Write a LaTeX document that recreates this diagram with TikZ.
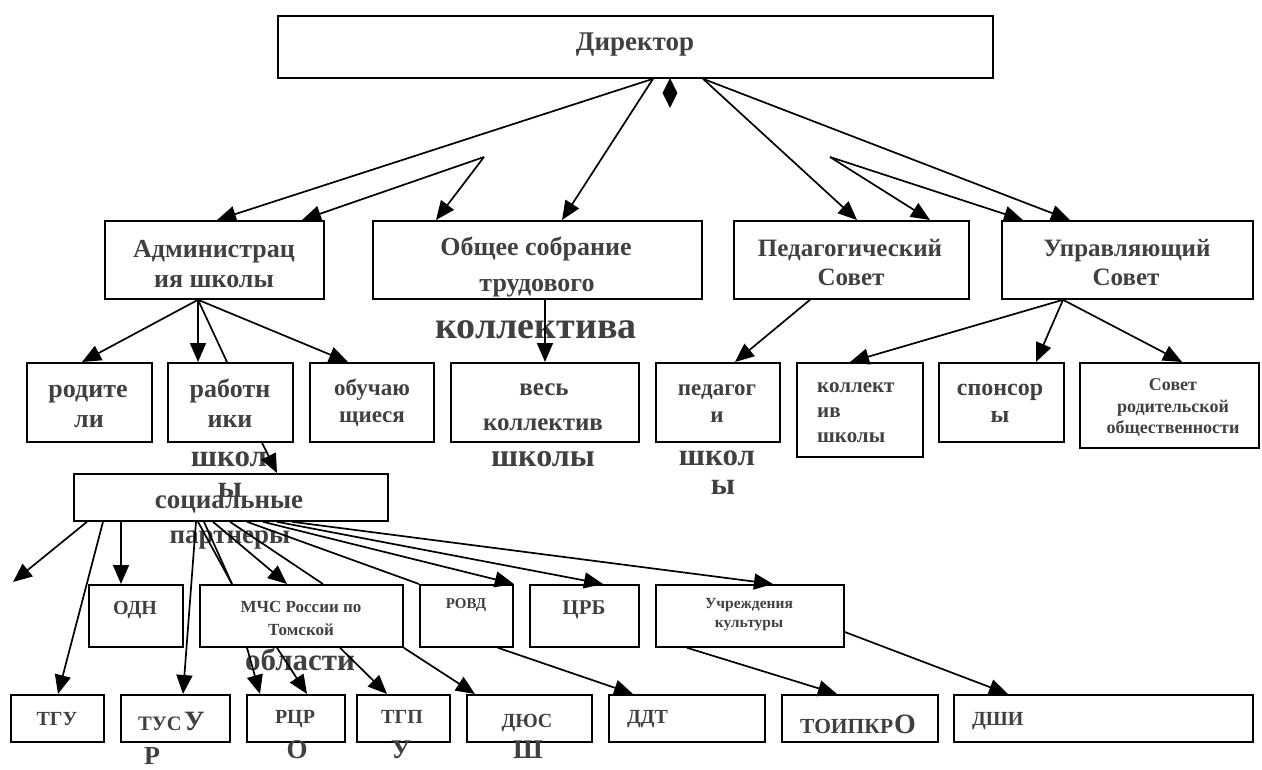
\documentclass[tikz,border=0pt]{standalone}
\usepackage{fontspec}
\setmainfont{Liberation Serif}
\usetikzlibrary{arrows.meta,shapes.geometric}
\definecolor{tgray}{RGB}{64,64,64}
\newcommand\fsz[1]{\fontsize{#1}{#1}\selectfont\bfseries}
\tikzset{
  box/.style={draw=black, line width=1.8pt, anchor=north west, inner sep=0pt},
  txt/.style={text=tgray, anchor=base, inner sep=0pt},
  txtl/.style={text=tgray, anchor=base west, inner sep=0pt},
  conn/.style={draw=black, line width=1.7pt},
  arr/.style={conn, -{Triangle[length=19pt,width=16pt]}},
}
\begin{document}
\begin{tikzpicture}[x=1pt,y=-1pt]
\useasboundingbox (0,0) rectangle (1262,769);
% boxes
\node[box, minimum width=715pt, minimum height=62pt] (dir) at (277,15) {};
\node[box, minimum width=219pt, minimum height=78pt] (adm) at (104,220) {};
\node[box, minimum width=329pt, minimum height=78pt] (obs) at (372,220) {};
\node[box, minimum width=235pt, minimum height=78pt] (ped) at (733,220) {};
\node[box, minimum width=251pt, minimum height=78pt] (upr) at (1001,220) {};
\node[box, minimum width=125pt, minimum height=79pt] (rod) at (26,362) {};
\node[box, minimum width=125pt, minimum height=79pt] (rab) at (167,362) {};
\node[box, minimum width=124pt, minimum height=79pt] (obu) at (309,362) {};
\node[box, minimum width=188pt, minimum height=79pt] (ves) at (450,362) {};
\node[box, minimum width=124pt, minimum height=79pt] (pedg) at (655,362) {};
\node[box, minimum width=126pt, minimum height=94pt] (kol) at (796,362) {};
\node[box, minimum width=125pt, minimum height=79pt] (spo) at (938,362) {};
\node[box, minimum width=179pt, minimum height=85pt] (sov) at (1079,362) {};
\node[box, minimum width=314pt, minimum height=47pt] (soc) at (73,473) {};
\node[box, minimum width=94pt, minimum height=62pt] (odn) at (88,584) {};
\node[box, minimum width=203pt, minimum height=62pt] (mchs) at (199,584) {};
\node[box, minimum width=93pt, minimum height=62pt] (rovd) at (419,584) {};
\node[box, minimum width=109pt, minimum height=62pt] (crb) at (529,584) {};
\node[box, minimum width=188pt, minimum height=62pt] (ucr) at (655,584) {};
\node[box, minimum width=93pt, minimum height=47pt] (tgu) at (10,694) {};
\node[box, minimum width=109pt, minimum height=47pt] (tusur) at (120,694) {};
\node[box, minimum width=98pt, minimum height=47pt] (rcro) at (246,694) {};
\node[box, minimum width=93pt, minimum height=47pt] (tgpu) at (356,694) {};
\node[box, minimum width=125pt, minimum height=47pt] (dyus) at (466,694) {};
\node[box, minimum width=156pt, minimum height=47pt] (ddt) at (608,694) {};
\node[box, minimum width=156pt, minimum height=47pt] (toi) at (781,694) {};
\node[box, minimum width=299pt, minimum height=47pt] (dshi) at (953,694) {};
% diamond
\node[diamond, fill=black, inner sep=0pt, minimum width=15pt, minimum height=30pt] (dia) at (670,93) {};
% texts
\node[txt, font=\fsz{27}] (t1) at (635,50) {Директор};
\node[txt, font=\fsz{26}] (t2a) at (214,257) {Администрац};
\node[txt, font=\fsz{26}] (t2b) at (214,287) {ия школы};
\node[txt, font=\fsz{26}] (t3a) at (536,255) {Общее собрание};
\node[txt, font=\fsz{26}] (t3b) at (537,291) {трудового};
\node[txt, font=\fsz{38}] (t3c) at (536,338) {коллектива};
\node[txt, font=\fsz{25}] (t4a) at (850,256) {Педагогический};
\node[txt, font=\fsz{25}] (t4b) at (851,285) {Совет};
\node[txt, font=\fsz{25}] (t5a) at (1127,256) {Управляющий};
\node[txt, font=\fsz{25}] (t5b) at (1126,285) {Совет};
\node[txt, font=\fsz{26}] (t6a) at (88,397) {родите};
\node[txt, font=\fsz{26}] (t6b) at (89,427) {ли};
\node[txt, font=\fsz{26}] (t7a) at (230,397) {работн};
\node[txt, font=\fsz{26}] (t7b) at (230,427) {ики};
\node[txt, font=\fsz{31}] (t7c) at (229,466) {школ};
\node[txt, font=\fsz{31}] (t7d) at (230,497) {ы};
\node[txt, font=\fsz{23}] (t8a) at (372,395) {обучаю};
\node[txt, font=\fsz{23}] (t8b) at (372,422) {щиеся};
\node[txt, font=\fsz{25}] (t9a) at (544,395) {весь};
\node[txt, font=\fsz{25}] (t9b) at (543,430) {коллектив};
\node[txt, font=\fsz{32}] (t9c) at (543,466) {школы};
\node[txt, font=\fsz{23}] (t10a) at (717,395) {педагог};
\node[txt, font=\fsz{23}] (t10b) at (717,422) {и};
\node[txt, font=\fsz{31}] (t10c) at (717,465) {школ};
\node[txt, font=\fsz{31}] (t10d) at (723,494) {ы};
\node[txtl, font=\fsz{21}] (t11a) at (817,392) {коллект};
\node[txtl, font=\fsz{21}] (t11b) at (817,417) {ив};
\node[txtl, font=\fsz{21}] (t11c) at (817,442) {школы};
\node[txt, font=\fsz{24}] (t12a) at (1000,395) {спонсор};
\node[txt, font=\fsz{24}] (t12b) at (1000,422) {ы};
\node[txt, font=\fsz{18}] (t13a) at (1173,390) {Совет};
\node[txt, font=\fsz{18}] (t13b) at (1173,412) {родительской};
\node[txt, font=\fsz{18}] (t13c) at (1173,433) {общественности};
\node[txt, font=\fsz{27}] (t14a) at (229,508) {социальные};
\node[txt, font=\fsz{27}] (t14b) at (230,543) {партнеры};
\node[txt, font=\fsz{20}] (t15) at (135,614) {ОДН};
\node[txt, font=\fsz{17}] (t16a) at (301,612) {МЧС России по};
\node[txt, font=\fsz{17}] (t16b) at (301,635) {Томской};
\node[txt, font=\fsz{31}] (t16c) at (300,670) {области};
\node[txt, font=\fsz{15}] (t17) at (466,608) {РОВД};
\node[txt, font=\fsz{21}] (t18) at (584,614) {ЦРБ};
\node[txt, font=\fsz{15.5}] (t19a) at (749,608) {Учреждения};
\node[txt, font=\fsz{15.5}] (t19b) at (749,627) {культуры};
\node[txt, font=\fsz{20}] (t20) at (57,725) {ТГУ};
\node[txtl, font=\fsz{20.5}] (t21a) at (138,730) {ТУС};
\node[txtl, font=\fsz{28}] (t21b) at (184,730) {У};
\node[txt, font=\fsz{26}] (t21c) at (152,764) {Р};
\node[txt, font=\fsz{20}] (t22a) at (295,723) {РЦР};
\node[txt, font=\fsz{27}] (t22b) at (297,758) {О};
\node[txt, font=\fsz{20}] (t23a) at (402,723) {ТГП};
\node[txt, font=\fsz{27}] (t23b) at (401,758) {У};
\node[txt, font=\fsz{20}] (t24a) at (527,727) {ДЮС};
\node[txt, font=\fsz{27}] (t24b) at (528,758) {Ш};
\node[txtl, font=\fsz{20}] (t25) at (627,723) {ДДТ};
\node[txtl, font=\fsz{21.5}] (t26a) at (800,733) {ТОИПКР};
\node[txtl, font=\fsz{28}] (t26b) at (894,733) {О};
\node[txtl, font=\fsz{20}] (t27) at (972,725) {ДШИ};
% free points
\coordinate (vL) at (484,157);
\coordinate (vR) at (830,157);
\coordinate (fe) at (13,582);
% director connectors
\draw[arr] (dir.south -| 653,0) -- (adm.north -| 217,0);
\draw[arr] (dir.south -| 653,0) -- (obs.north -| 562,0);
\draw[arr] (vL) -- (adm.north -| 302,0);
\draw[arr] (vL) -- (obs.north -| 436,0);
\draw[arr] (dir.south -| 703,0) -- (ped.north -| 857,0);
\draw[arr] (dir.south -| 703,0) -- (upr.north -| 1070,0);
\draw[arr] (vR) -- (ped.north -| 930,0);
\draw[arr] (vR) -- (upr.north -| 1023,0);
% level 2 -> 3
\draw[arr] (adm.south -| 198,0) -- (rod.north -| 82,0);
\draw[arr] (adm.south -| 198,0) -- (rab.north -| 198,0);
\draw[conn] (adm.south -| 198,0) -- (rab.north -| 227,0);
\draw[arr] (adm.south -| 198,0) -- (obu.north -| 348,0);
\draw[arr] (obs.south -| 545,0) -- (ves.north -| 545,0);
\draw[arr] (ped.south -| 810,0) -- (pedg.north -| 735,0);
\draw[arr] (upr.south -| 1063,0) -- (kol.north -| 850,0);
\draw[arr] (upr.south -| 1063,0) -- (spo.north -| 1036,0);
\draw[arr] (upr.south -| 1063,0) -- (sov.north -| 1182,0);
\draw[arr] (rab.south -| 262,0) -- (soc.north -| 277,0);
% social partners
\draw[arr] (soc.south -| 87,0) -- (fe);
\draw[arr] (soc.south -| 103,0) -- (tgu.north -| 58,0);
\draw[arr] (soc.south -| 121,0) -- (odn.north -| 121,0);
\draw[arr] (soc.south -| 196,0) -- (tusur.north -| 183,0);
\draw[conn] (soc.south -| 198,0) -- (mchs.north -| 232,0);
\draw[conn] (soc.south -| 204,0) -- (mchs.north -| 232,0);
\draw[arr] (soc.south -| 213,0) -- (mchs.north -| 287,0);
\draw[conn] (soc.south -| 230,0) -- (mchs.north -| 323,0);
\draw[conn] (soc.south -| 247,0) -- (rovd.north west);
\draw[arr] (soc.south -| 263,0) -- (rovd.north east);
\draw[arr] (soc.south -| 277,0) -- (crb.north -| 603,0);
\draw[arr] (soc.south -| 292,0) -- (ucr.north -| 773,0);
% bottom level
\draw[arr] (mchs.south -| 247,0) -- (rcro.north -| 260,0);
\draw[arr] (mchs.south -| 277,0) -- (rcro.north -| 307,0);
\draw[arr] (mchs.south -| 340,0) -- (tgpu.north -| 387,0);
\draw[arr] (mchs.south east) -- (dyus.north -| 475,0);
\draw[arr] (rovd.south -| 498,0) -- (ddt.north -| 633,0);
\draw[arr] (ucr.south -| 687,0) -- (toi.north -| 837,0);
\draw[arr] (ucr.east |- 0,632) -- (dshi.north -| 1008,0);
\end{tikzpicture}
\end{document}
